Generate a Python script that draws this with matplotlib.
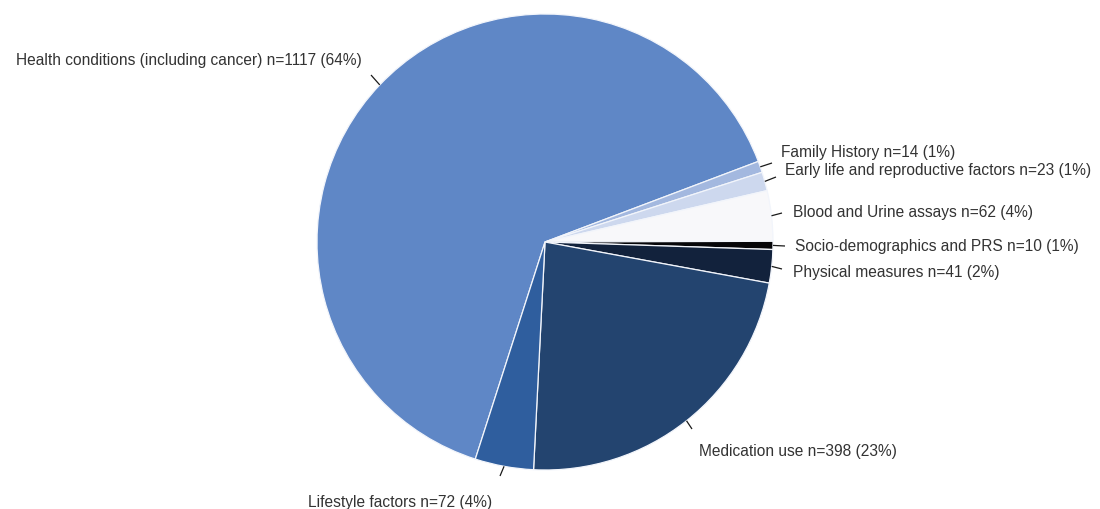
import numpy as np
import matplotlib
matplotlib.use("Agg")
import matplotlib.pyplot as plt

plt.rcParams['font.family'] = ['Liberation Sans', 'DejaVu Sans']

# Variable categories and counts, drawn clockwise
categories = [
    "Health conditions (including cancer)",
    "Family History",
    "Early life and reproductive factors",
    "Blood and Urine assays",
    "Socio-demographics and PRS",
    "Physical measures",
    "Medication use",
    "Lifestyle factors",
]
counts = [1117, 14, 23, 62, 10, 41, 398, 72]
colors = ["#5f87c6", "#a3b8df", "#cdd8ee", "#f8f8fa", "#050508",
          "#12223c", "#23446f", "#2f5e9e"]

total = sum(counts)
labels = [f"{c} n={n} ({round(100 * n / total)}%)" for c, n in zip(categories, counts)]

W, H = 1100, 510
fig = plt.figure(figsize=(W / 100, H / 100), dpi=100)
ax = fig.add_axes([0, 0, 1, 1])

cx, cy, R = 545, H - 243, 228
wedges, _ = ax.pie(counts, colors=colors, startangle=252.2, counterclock=False,
                   center=(cx, cy), radius=R, frame=True,
                   wedgeprops=dict(edgecolor="#f2f5fb", linewidth=0.9))
ax.set_xlim(0, W)
ax.set_ylim(0, H)
ax.set_aspect("equal")
ax.axis("off")

# label anchor (x, y from top), alignment, and leader-line end (x, y from top)
label_pos = [
    (362, 60, "right", (371, 76)),
    (781, 153, "left", (772, 164)),
    (785, 171, "left", (776, 178)),
    (793, 212, "left", (782, 214)),
    (795, 247, "left", (785, 247)),
    (793, 272, "left", (782, 270)),
    (699, 452, "left", (692, 430)),
    (400, 503, "center", (500, 477)),
]

text_color = "#333333"
for w, lab, (tx, ty, ha, (lx, ly)) in zip(wedges, labels, label_pos):
    mid = np.deg2rad((w.theta1 + w.theta2) / 2)
    ex, ey = cx + R * np.cos(mid), cy + R * np.sin(mid)
    ax.plot([ex, lx], [ey, H - ly], color="#1a1a1a", lw=0.9, solid_capstyle="butt")
    ax.text(tx, H - ty, lab, ha=ha, va="center", fontsize=11.2, color=text_color)

fig.savefig("out.png", dpi=100)
